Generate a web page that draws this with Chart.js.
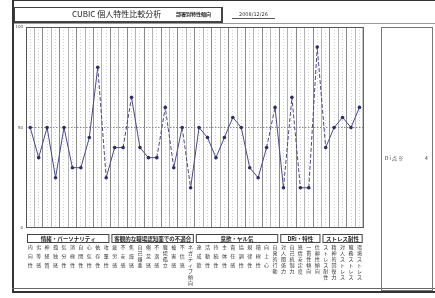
<!DOCTYPE html>
<html>
<head>
<meta charset="utf-8">
<script src="https://cdn.jsdelivr.net/npm/chart.js@4"></script>
<style>
  body { margin: 0; background: #fff; font-family: "Noto Sans CJK JP", sans-serif; }
  #wrap { position: relative; width: 435px; height: 298px; overflow: hidden; }
  #chart { position: absolute; left: 0; top: 0; }
  .abs { position: absolute; }
</style>
</head>
<body>
<div id="wrap">
  <canvas id="chart" width="380" height="298"></canvas>
  <div class="abs" style="left:12px;top:0;width:423px;height:1px;background:#333"></div>
  <div class="abs" style="left:12px;top:0;width:2px;height:292px;background:#333"></div>
  <div class="abs" style="left:12px;top:288px;width:423px;height:1px;background:#666"></div>
  <div class="abs" style="left:12px;top:291px;width:423px;height:2px;background:#333"></div>
  <div class="abs" style="left:14px;top:23px;width:421px;height:1px;background:#999"></div>
  <div class="abs" style="left:14px;top:7px;width:206px;height:13px;border:1px solid #444;border-right-width:2px;border-bottom-width:2px;background:#fff"></div>
  <div class="abs" style="left:72px;top:8px;font-size:8px;line-height:12px;color:#222;font-family:'Noto Sans CJK JP';white-space:nowrap">CUBIC 個人特性比較分析</div>
  <div class="abs" style="left:176px;top:9px;font-size:5px;line-height:10px;font-weight:bold;color:#222;white-space:nowrap">部署別特性傾向</div>
  <div class="abs" style="left:239px;top:10px;font-size:5px;line-height:8px;color:#333;white-space:nowrap;font-family:'DejaVu Sans'">2008/12/26</div>
  <div class="abs" style="left:232px;top:18px;width:43px;height:1px;background:#555"></div>
  <div class="abs" style="left:381px;top:27px;width:50px;height:262px;border:1px solid #777;"></div>
  <div class="abs" style="left:385px;top:154px;font-size:5px;line-height:8px;color:#333;white-space:nowrap">D i 点 ※</div>
  <div class="abs" style="left:425px;top:154px;font-size:5px;line-height:8px;color:#333">4</div>
</div>
<script>
const categories = [
  '内向性', '劣等感', '神経質', '孤独感', '気分性', '消極性', '自閉性', '心気性', '依存性', '攻撃性',
  '疲労感', '不安感', '焦燥感', '自己嫌悪', '倦怠感', '不満感', '職場孤立', '被害感', '不信感', 'ネガティブ傾向',
  '達成欲', '活動性', '持続性', '主体性', '責任感', '協調性', '規律性', '積極性', '向上心', '自発的行動',
  '対人関係力', '自己統制力', '感情安定度', '一貫性傾向', '信頼性傾向',
  'ストレス耐性', '精神的回復力', '対人ストレス', '職務ストレス', '環境ストレス'
];
const scores = [
  50, 35, 50, 25, 50, 30, 30, 45, 80, 25,
  40, 40, 65, 40, 35, 35, 60, 30, 50, 20,
  50, 45, 35, 45, 55, 50, 30, 25, 40, 60,
  20, 65, 20, 20, 90,
  40, 50, 55, 50, 60
];
const groupNames = ['情緒・パーソナリティ', '客観的な職場認知面での不適合', '意欲・ヤル気', 'DRi・特性', 'ストレス耐性'];
const groupSizes = [10, 10, 10, 5, 5];
const yTicks = [0, 50, 100];

// segments drawn dashed in the original
const dashedSegs = [8, 11, 15, 16, 18, 28, 30, 31, 33, 34];

function verticalLabel(s) {
  const chars = [...s];
  const gap = chars.length <= 3 ? 2 : 1;
  const out = [];
  chars.forEach((c, i) => {
    out.push(c);
    if (i < chars.length - 1) for (let g = 0; g < gap; g++) out.push('');
  });
  return out;
}

const groupBoxes = {
  id: 'groupBoxes',
  afterDraw(chart) {
    const ctx = chart.ctx;
    const xs = chart.scales.x;
    const area = chart.chartArea;
    const step = xs.getPixelForValue(1) - xs.getPixelForValue(0);
    ctx.save();
    // plot frame
    ctx.strokeStyle = '#555';
    ctx.lineWidth = 1;
    ctx.strokeRect(area.left + 0.5, area.top + 0.5, area.right - area.left - 1, area.bottom - area.top - 1);
    let start = 0;
    groupSizes.forEach((n, g) => {
      const x1 = xs.getPixelForValue(start) - step / 2 + 1.5;
      const x2 = xs.getPixelForValue(start + n - 1) + step / 2 - 1.5;
      ctx.strokeStyle = '#444';
      ctx.lineWidth = 1;
      ctx.strokeRect(x1, 234.5, x2 - x1, 8);
      ctx.fillStyle = '#222';
      ctx.font = 'bold 5.5px "Noto Sans CJK JP"';
      ctx.textAlign = 'center';
      ctx.textBaseline = 'middle';
      ctx.fillText(groupNames[g], (x1 + x2) / 2, 238.8);
      start += n;
    });
    ctx.restore();
  }
};

new Chart(document.getElementById('chart'), {
  type: 'line',
  data: {
    labels: categories.map(verticalLabel),
    datasets: [{
      data: scores,
      borderColor: '#4a4a88',
      borderWidth: 1,
      backgroundColor: '#2e2e6e',
      pointRadius: 1.8,
      pointBorderWidth: 0,
      tension: 0,
      segment: {
        borderDash: ctx => dashedSegs.includes(ctx.p0DataIndex) ? [4, 2] : undefined
      }
    }]
  },
  options: {
    responsive: false,
    animation: false,
    layout: { padding: { left: 0, top: 27, right: 4, bottom: 0 } },
    plugins: { legend: { display: false }, tooltip: { enabled: false } },
    scales: {
      x: {
        offset: true,
        grid: {
          offset: true,
          drawTicks: false,
          color: ctx => ctx.index % 2 ? '#b4b4b4' : '#8a8a8a',
          lineWidth: 1
        },
        border: { display: false },
        ticks: {
          autoSkip: false,
          maxRotation: 0,
          minRotation: 0,
          padding: 18,
          color: '#333',
          font: { family: 'Noto Sans CJK JP', size: 5, lineHeight: 0.6 }
        },
        afterFit: s => { s.height = 70; }
      },
      x2: {
        type: 'category',
        position: 'bottom',
        labels: categories,
        offset: true,
        grid: { offset: false, drawTicks: false, color: '#d0d0d0', lineWidth: 1 },
        border: { display: false, dash: [1, 2] },
        ticks: { display: false },
        afterFit: s => { s.height = 0; }
      },
      y: {
        min: 0,
        max: 100,
        afterBuildTicks: s => { s.ticks = yTicks.map(v => ({ value: v })); },
        grid: {
          drawTicks: false,
          color: ctx => ctx.tick && ctx.tick.value === 50 ? '#888' : 'rgba(0,0,0,0)'
        },
        border: { display: false, dash: [1.5, 1.5] },
        ticks: { padding: 3, color: '#444', font: { family: 'DejaVu Sans', size: 4 } },
        afterFit: s => { s.width = 26; }
      }
    }
  },
  plugins: [groupBoxes]
});
</script>
</body>
</html>
